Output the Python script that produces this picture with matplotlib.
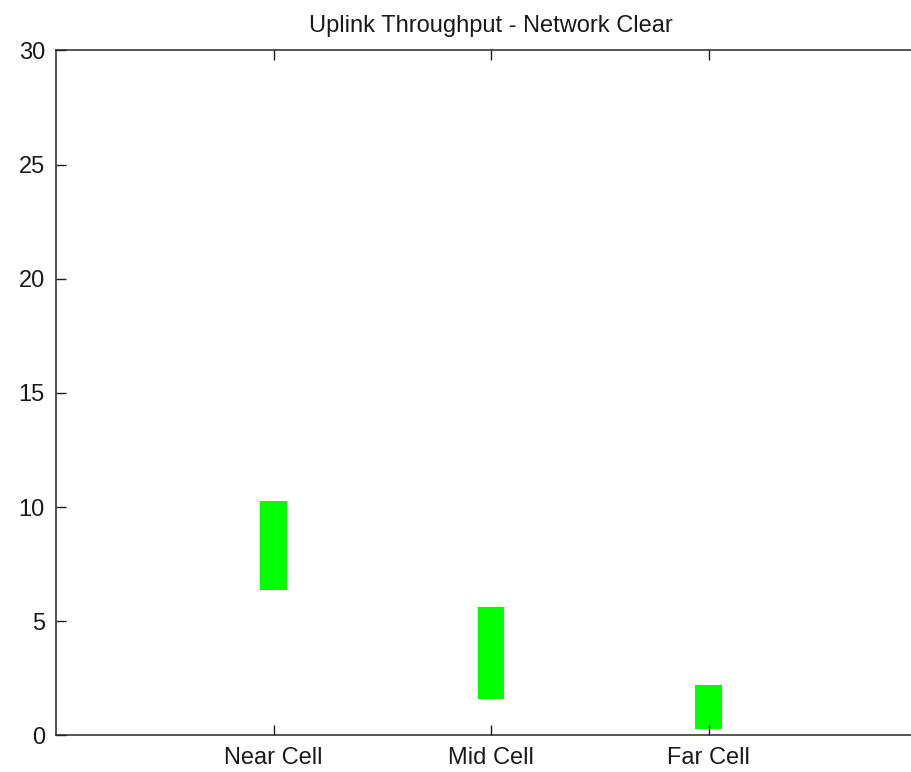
import matplotlib
matplotlib.use('Agg')
import matplotlib.pyplot as plt

categories = ['Near Cell', 'Mid Cell', 'Far Cell']
positions = [1, 2, 3]
low_values = [6.35, 1.6, 0.3]
high_values = [10.28, 5.64, 2.22]
y_ticks = [0, 5, 10, 15, 20, 25, 30]

plt.rcParams['font.family'] = ['Liberation Sans', 'DejaVu Sans']

fig = plt.figure(figsize=(9.11, 7.72), dpi=100)
# axes runs past the right edge of the picture, like the cropped original
ax = fig.add_axes([0.0615, 0.0473, 0.955, 0.8873])

heights = [h - l for h, l in zip(high_values, low_values)]
ax.bar(positions, heights, bottom=low_values, width=0.12, color='#00ff00', linewidth=0)

ax.set_xlim(0, 4)
ax.set_ylim(0, 30)
ax.set_xticks(positions)
ax.set_xticklabels(categories)
ax.set_yticks(y_ticks)

ax.tick_params(direction='in', length=7, width=1, top=True, right=False,
               labelsize=17, pad=8, colors='#1a1a1a')
ax.tick_params(axis='x', pad=8)
for side in ['left', 'bottom', 'top']:
    ax.spines[side].set_linewidth(1.1)
    ax.spines[side].set_color('#262626')
ax.spines['right'].set_visible(False)

ax.set_title('Uplink Throughput - Network Clear', fontsize=17, pad=13, color='#1a1a1a')

fig.savefig('out.png', dpi=100)
